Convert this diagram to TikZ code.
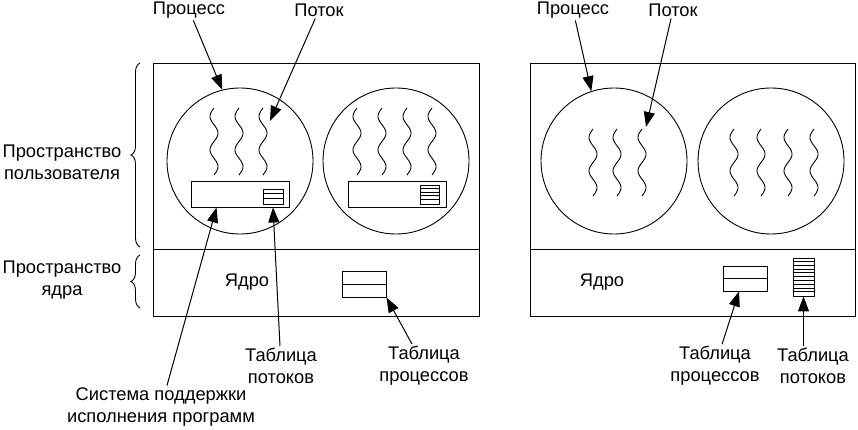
\documentclass[tikz,border=0pt]{standalone}
\usepackage{fontspec}
\setmainfont{Liberation Sans}
\usetikzlibrary{arrows.meta,decorations.pathreplacing,calc}
\begin{document}
\begin{tikzpicture}[x=1pt,y=-1pt,
  ln/.style={line width=0.9pt},
  arr/.style={line width=1pt,-{Triangle[length=15pt,width=11pt]}},
  lbl/.style={font=\fontsize{18.3}{22}\selectfont, align=center, inner sep=2pt},
  proc/.style={circle, draw, line width=0.9pt, minimum size=146, inner sep=0pt},
  rtbox/.style={draw, line width=0.9pt, minimum width=98, minimum height=26, inner sep=0pt},
  tbl/.style={draw, line width=0.9pt, inner sep=0pt},
  brc/.style={decorate, decoration={brace, amplitude=9pt}, line width=0.9pt},
  wave/.pic={\draw[line width=0.9pt] plot[domain=0:67, samples=70, smooth] ({-4*sin(10.746*\x)},{\x});}
]
\useasboundingbox (0,0) rectangle (858,430);

% ---------------- left panel ----------------
\draw[ln] (153,63) rectangle (479,316);
\draw[ln] (153,249) -- (479,249);

\node[proc] (c1) at (240,161) {};
\node[proc] (c2) at (396,161) {};

\foreach \xx in {214,239,263} \pic at (\xx,108) {wave};
\foreach \xx in {357,382,407,432} \pic at (\xx,108) {wave};

\node[rtbox] (rt1) at (240,194) {};
\node[rtbox] (rt2) at (397,194) {};

\node[tbl, minimum width=20, minimum height=15] (tt1) at (273,196.5) {};
\foreach \k in {1,2} \draw[ln] ($(tt1.north west)+(0,5*\k)$) -- ($(tt1.north east)+(0,5*\k)$);
\node[tbl, minimum width=19, minimum height=19] (tt2) at (429.5,194.5) {};
\foreach \k in {1,2,3,4} \draw[ln] ($(tt2.north west)+(0,3.8*\k)$) -- ($(tt2.north east)+(0,3.8*\k)$);

\node[font=\fontsize{18.3}{22}\selectfont] (k1) at (247,282) {Ядро};
\node[tbl, minimum width=44, minimum height=26] (pt1) at (364,284) {};
\draw[ln] (pt1.west) -- (pt1.east);

% braces and side labels
\draw[brc] (140,247) -- (140,63);
\draw[brc] (140,308) -- (140,255);
\node[lbl] (us) at (62,162) {Пространство\\пользователя};
\node[lbl] (ks) at (62,280) {Пространство\\ядра};

% top labels and arrows (left)
\node[lbl] (lp1) at (189,10) {Процесс};
\node[lbl] (lt1) at (319,10) {Поток};
\coordinate (thr1) at (270,121);
\draw[arr] (lp1) -- (c1.104);
\draw[arr] (lt1) -- (thr1);

% bottom labels and arrows (left)
\node[lbl] (rts) at (161,407) {Система поддержки\\исполнения программ};
\node[lbl] (ltt1) at (281,366) {Таблица\\потоков};
\node[lbl] (lpt1) at (424,366) {Таблица\\процессов};
\coordinate (rtp) at ($(rt1.south west)+(26,0)$);
\coordinate (ttp) at (rt1.south -| tt1.south);
\draw[arr] (rts) -- (rtp);
\draw[arr] (ltt1) -- (ttp);
\draw[arr] (lpt1) -- (pt1.south east);

% ---------------- right panel ----------------
\draw[ln] (530,63) rectangle (855,316);
\draw[ln] (530,249) -- (855,249);

\node[proc] (c3) at (614,161) {};
\node[proc] (c4) at (771,161) {};

\foreach \xx in {593,617,642} \pic at (\xx,129) {wave};
\foreach \xx in {734,761,788,814} \pic at (\xx,129) {wave};

\node[font=\fontsize{18.3}{22}\selectfont] (k2) at (602,282) {Ядро};
\node[tbl, minimum width=44, minimum height=25] (pt2) at (745,278.5) {};
\draw[ln] (pt2.west) -- (pt2.east);
\node[tbl, minimum width=21, minimum height=38] (tt3) at (803.5,277) {};
\foreach \k in {1,...,9} \draw[ln] ($(tt3.north west)+(0,3.8*\k)$) -- ($(tt3.north east)+(0,3.8*\k)$);

\node[lbl] (rp1) at (573,10) {Процесс};
\node[lbl] (rt1l) at (673,10) {Поток};
\coordinate (thr2) at (646,127);
\draw[arr] (rp1) -- (c3.108);
\draw[arr] (rt1l) -- (thr2);

\node[lbl] (rpt2) at (715,366) {Таблица\\процессов};
\node[lbl] (rtt3) at (813,366) {Таблица\\потоков};
\coordinate (ptp) at ($(pt2.south)+(-6,0)$);
\draw[arr] (rpt2) -- (ptp);
\draw[arr] (rtt3.north -| tt3.south) -- (tt3.south);
\end{tikzpicture}
\end{document}
